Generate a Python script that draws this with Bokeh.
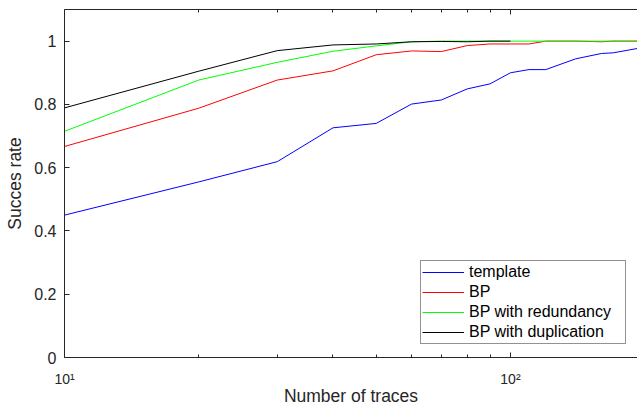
from bokeh.plotting import figure
from bokeh.models import Range1d, LogAxis, FixedTicker, Legend, LegendItem
from bokeh.embed import file_html
from bokeh.resources import INLINE

# ---- data ----
x_template = [10, 20, 30, 40, 50, 60, 70, 80, 90, 100, 110, 120, 140, 160, 170, 200]
y_template = [0.450, 0.555, 0.619, 0.726, 0.740, 0.801, 0.814, 0.849, 0.865, 0.900,
              0.910, 0.910, 0.944, 0.961, 0.963, 0.981]

x_bp = [10, 20, 30, 40, 50, 60, 70, 80, 90, 100, 110, 120, 140, 160, 170, 200]
y_bp = [0.667, 0.788, 0.877, 0.906, 0.957, 0.969, 0.967, 0.986, 0.991, 0.991,
        0.991, 1.0, 1.0, 0.998, 1.0, 1.0]

x_red = [10, 20, 30, 40, 50, 60, 70, 80, 90, 100, 110, 120, 140, 160, 170, 200]
y_red = [0.715, 0.877, 0.933, 0.968, 0.985, 0.998, 1.0, 1.0, 1.0, 1.0,
         1.0, 1.0, 1.0, 1.0, 1.0, 1.0]

x_dup = [10, 20, 30, 40, 50, 60, 70, 80, 90, 100]
y_dup = [0.789, 0.905, 0.970, 0.988, 0.991, 0.998, 0.999, 0.998, 1.0, 1.0]

names = ["template", "BP", "BP with redundancy", "BP with duplication"]
colors = ["#0000ff", "#ff0000", "#00ff00", "#000000"]

x_major = [10, 100]
x_minor = [20, 30, 40, 50, 60, 70, 80, 90, 200]
x_major_labels = {10: "10\u00b9", 100: "10\u00b2"}
y_ticks = [0, 0.2, 0.4, 0.6, 0.8, 1]
y_tick_labels = {0: "0", 0.2: "0.2", 0.4: "0.4", 0.6: "0.6", 0.8: "0.8", 1: "1"}
x_title = "Number of traces"
y_title = "Succes rate"

FONT = "Liberation Sans"
AX = "#262626"

p = figure(width=637, height=408, x_axis_type="log",
           x_range=Range1d(10, 192.7), y_range=Range1d(0, 1.1),
           output_backend="svg", toolbar_location=None,
           min_border_left=64, min_border_right=0, min_border_top=9,
           min_border_bottom=51)
p.outline_line_color = None
p.xgrid.visible = False
p.ygrid.visible = False
p.background_fill_color = "white"
p.border_fill_color = "white"

series = [(x_template, y_template), (x_bp, y_bp), (x_red, y_red), (x_dup, y_dup)]
renderers = []
for (xs, ys), c in zip(series, colors):
    r = p.line(xs, ys, line_color=c, line_width=1)
    renderers.append(r)

# bottom x axis
xa = p.xaxis[0]
xa.ticker = FixedTicker(ticks=x_major, minor_ticks=x_minor)
xa.major_label_overrides = x_major_labels
xa.axis_label = x_title
xa.major_tick_in = 5
xa.major_tick_out = 0
xa.minor_tick_in = 3
xa.minor_tick_out = 0
xa.major_label_standoff = 13
xa.axis_label_standoff = -4
xa.major_label_text_font = FONT
xa.major_label_text_font_size = "14px"
xa.axis_label_text_font = FONT
xa.axis_label_text_font_size = "17.5px"
xa.axis_label_text_font_style = "normal"
xa.axis_line_color = AX
xa.major_tick_line_color = AX
xa.minor_tick_line_color = AX
xa.major_label_text_color = AX
xa.axis_label_text_color = AX

# left y axis
ya = p.yaxis[0]
ya.ticker = FixedTicker(ticks=y_ticks)
ya.major_label_overrides = y_tick_labels
ya.axis_label = y_title
ya.major_tick_in = 5
ya.major_tick_out = 0
ya.minor_tick_line_color = None
ya.major_label_standoff = 8
ya.axis_label_standoff = 6
ya.major_label_text_font = FONT
ya.major_label_text_font_size = "16px"
ya.axis_label_text_font = FONT
ya.axis_label_text_font_size = "17.5px"
ya.axis_label_text_font_style = "normal"
ya.axis_line_color = AX
ya.major_tick_line_color = AX
ya.major_label_text_color = AX
ya.axis_label_text_color = AX

# top axis (box line with inward ticks, no labels)
ta = LogAxis(ticker=FixedTicker(ticks=x_major, minor_ticks=x_minor))
ta.major_tick_in = 5
ta.major_tick_out = 0
ta.minor_tick_in = 3
ta.minor_tick_out = 0
ta.major_label_text_font_size = "0px"
ta.major_label_standoff = 0
ta.major_label_text_color = None
ta.axis_line_color = AX
ta.major_tick_line_color = AX
ta.minor_tick_line_color = AX
p.add_layout(ta, "above")

legend = Legend(items=[LegendItem(label=n, renderers=[r]) for n, r in zip(names, renderers)],
                location=(356, 13))
legend.label_text_font = FONT
legend.label_text_font_size = "16px"
legend.label_text_color = "#000000"
legend.glyph_width = 42
legend.glyph_height = 20
legend.label_height = 20
legend.label_width = 155
legend.label_standoff = 5
legend.spacing = 0
legend.padding = 1
legend.margin = 0
legend.border_line_color = AX
legend.border_line_width = 1
legend.background_fill_color = "white"
legend.background_fill_alpha = 1
p.add_layout(legend, "center")

open("out.html", "w").write(file_html(p, INLINE))
